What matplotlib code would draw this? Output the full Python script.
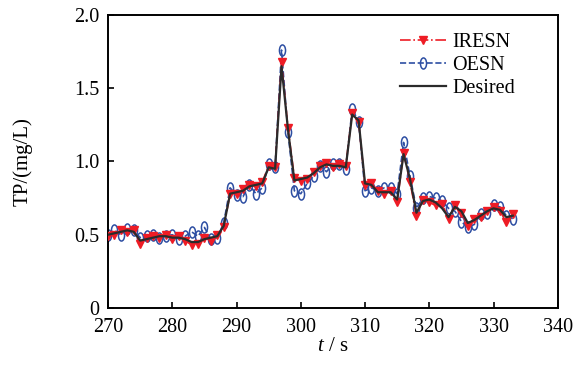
import numpy as np
import matplotlib
matplotlib.use('Agg')
import matplotlib.pyplot as plt
from matplotlib.path import Path
from matplotlib.transforms import Affine2D

plt.rcParams['font.family'] = ['Liberation Serif', 'DejaVu Serif']
plt.rcParams['mathtext.fontset'] = 'custom'
plt.rcParams['mathtext.it'] = 'Liberation Serif:italic'

t = list(range(270, 334))

desired = [0.50, 0.51, 0.52, 0.53, 0.52, 0.46, 0.47, 0.48, 0.49, 0.49,
           0.48, 0.48, 0.47, 0.45, 0.45, 0.47, 0.48, 0.49, 0.56, 0.78,
           0.79, 0.80, 0.83, 0.84, 0.85, 0.96, 0.95, 1.65, 1.22, 0.87,
           0.88, 0.89, 0.92, 0.96, 0.98, 0.97, 0.97, 0.96, 1.32, 1.28,
           0.85, 0.84, 0.79, 0.79, 0.79, 0.74, 1.05, 0.88, 0.65, 0.73,
           0.74, 0.72, 0.68, 0.62, 0.69, 0.66, 0.58, 0.60, 0.63, 0.66,
           0.68, 0.67, 0.62, 0.63]

iresn = [0.49, 0.50, 0.53, 0.52, 0.53, 0.44, 0.48, 0.49, 0.48, 0.50,
         0.47, 0.49, 0.46, 0.43, 0.44, 0.48, 0.46, 0.50, 0.55, 0.78,
         0.78, 0.81, 0.84, 0.83, 0.86, 0.97, 0.96, 1.68, 1.23, 0.89,
         0.87, 0.88, 0.93, 0.97, 0.99, 0.96, 0.98, 0.97, 1.33, 1.27,
         0.84, 0.85, 0.80, 0.78, 0.80, 0.72, 1.06, 0.86, 0.63, 0.74,
         0.72, 0.70, 0.71, 0.61, 0.70, 0.65, 0.56, 0.61, 0.62, 0.66,
         0.69, 0.66, 0.59, 0.64]

oesn = [0.50, 0.53, 0.50, 0.54, 0.53, 0.48, 0.49, 0.50, 0.48, 0.49,
        0.50, 0.47, 0.49, 0.52, 0.49, 0.55, 0.47, 0.48, 0.58, 0.82,
        0.77, 0.76, 0.84, 0.78, 0.82, 0.98, 0.96, 1.76, 1.20, 0.80,
        0.78, 0.85, 0.90, 0.97, 0.93, 0.98, 0.98, 0.95, 1.36, 1.27,
        0.80, 0.82, 0.80, 0.82, 0.82, 0.78, 1.13, 0.90, 0.68, 0.75,
        0.76, 0.75, 0.73, 0.68, 0.66, 0.59, 0.55, 0.57, 0.64, 0.65,
        0.70, 0.69, 0.63, 0.61]

# tall ellipse marker for OESN
circ = Path.unit_circle()
ellipse = circ.transformed(Affine2D().scale(0.55, 1.0))

fig = plt.figure(figsize=(5.81, 3.72), dpi=100)
ax = fig.add_axes([0.186, 0.172, 0.774, 0.788])

ax.plot(t, iresn, color='#ee1c25', linestyle='-.', linewidth=1.2,
        marker='v', markersize=5.5, markerfacecolor='#ee1c25',
        markeredgecolor='#ee1c25', label='IRESN', zorder=3)
ax.plot(t, oesn, color='#2e4fa3', linestyle='--', linewidth=1.2,
        marker=ellipse, markersize=8, markerfacecolor='none',
        markeredgecolor='#2e4fa3', markeredgewidth=1.1, label='OESN', zorder=2)
ax.plot(t, desired, color='#2b2b2b', linestyle='-', linewidth=1.6,
        label='Desired', zorder=4)

ax.set_xlim(270, 340)
ax.set_ylim(0, 2.0)
ax.set_xticks(range(270, 341, 10))
ax.set_yticks([0, 0.5, 1.0, 1.5, 2.0])
ax.set_yticklabels(['0', '0.5', '1.0', '1.5', '2.0'])
ax.tick_params(direction='in', labelsize=14.5, length=4, width=1.2)
ax.tick_params(axis='x', pad=7)
ax.tick_params(axis='y', pad=6)
for s in ax.spines.values():
    s.set_linewidth(1.4)

ax.set_xlabel(r'$\mathit{t}$ / s', fontsize=15, labelpad=0)
ax.set_ylabel('TP/(mg/L)', fontsize=15, labelpad=30)

ax.legend(loc='upper right', frameon=False, fontsize=14.5, handlelength=2.3,
          handletextpad=0.3, labelspacing=0.2,
          bbox_to_anchor=(0.945, 1.0))

fig.savefig('out.png', dpi=100)
